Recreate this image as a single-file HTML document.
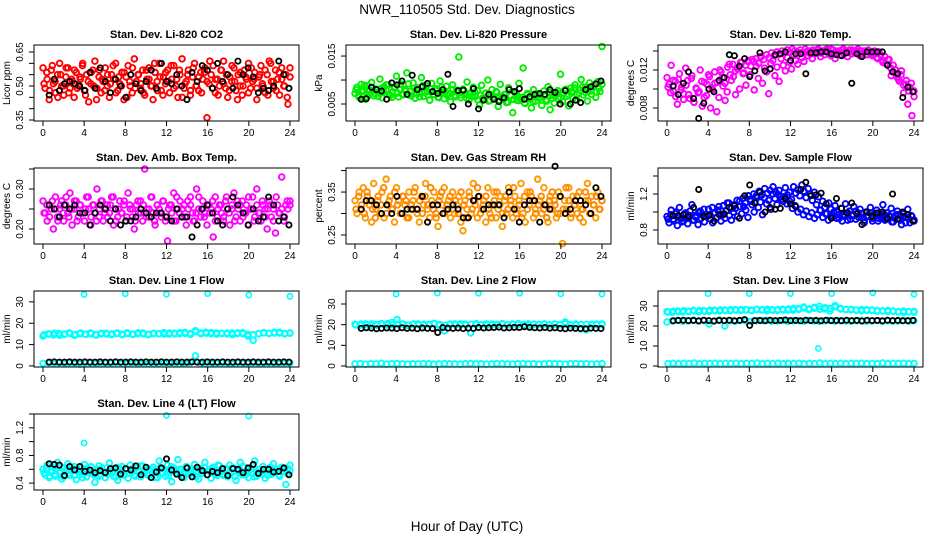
<!DOCTYPE html>
<html><head><meta charset="utf-8">
<style>
html,body{margin:0;padding:0;background:#fff;}
svg{display:block;font-family:"Liberation Sans",Arial,sans-serif;}
</style></head>
<body>
<svg id="chart" width="936" height="540" viewBox="0 0 936 540" xmlns="http://www.w3.org/2000/svg">
<rect width="936" height="540" fill="#fff"/>
<text x="467" y="14" font-size="13.5" text-anchor="middle">NWR_110505  Std. Dev. Diagnostics</text>
<text x="467" y="531" font-size="13.5" text-anchor="middle">Hour of Day (UTC)</text>
<g id="panels"></g>
</svg>
<script>
const xTicks=[0,4,8,12,16,20,24];
// Panel 1 CO2
const co2Vals=[.58,.49,.53,.44,.57,.51,.47,.55,.60,.50,.46,.54,.58,.49,.52,.45,.56,.50,.53,.59,.48,.55,.43,.51,.57,.61,.49,.54,.47,.52,.58,.50,.45,.55,.53,.60,.48,.51,.56,.44,.54,.59,.50,.47,.62,.52,.55,.49,.57,.46,.53,.58,.50,.44,.56,.52,.60,.48,.54,.51,.57,.47,.53,.59,.50,.45,.55,.62,.49,.52,.57,.46,.54,.60,.50,.48,.56,.53,.58,.36,.51,.55,.59,.47,.53,.50,.57,.61,.49,.45,.54,.52,.58,.48,.55,.50,.46,.57,.53,.60,.49,.52,.56,.44,.54,.59,.50,.47,.55,.61,.52,.49,.57,.53,.46,.58,.50,.55,.42,.54];
const co2ValsB=[.51,.56,.48,.59,.52,.45,.55,.50,.58,.47,.53,.57,.49,.54,.60,.46,.52,.56,.50,.44,.57,.53,.48,.55,.51,.59,.47,.54,.50,.56,.45,.52,.58,.49,.55,.51,.47,.57,.53,.50,.60,.48,.54,.46,.56,.52,.59,.49,.53,.57,.45,.51,.55,.48,.58,.50,.54,.47,.56,.52,.61,.49,.53,.46,.57,.51,.55,.48,.59,.52,.44,.56,.50,.54,.47,.58,.53,.49,.55,.51,.57,.46,.60,.52,.48,.56,.53,.50,.45,.58];
const co2Black=[.46,.53,.48,.51,.52,.51,.50,.48,.56,.49,.58,.52,.47,.53,.50,.45,.55,.51,.48,.52,.57,.49,.60,.52,.51,.55,.50,.44,.56,.52,.59,.57,.49,.60,.52,.55,.49,.61,.55,.58,.54,.47,.49,.48,.50,.61,.55,.49];
const co2Ticks=[.35,.40,.45,.50,.55,.60,.65];
const co2TickLabels=['0.35','','','0.50','','','0.65'];
// Panel 2 pressure (units of 0.001 kPa)
const presVals=[7.2,8.5,6.4,9.1,7.8,6.0,8.8,7.0,9.5,6.7,8.1,7.4,10.2,6.3,8.6,7.9,9.0,6.8,7.5,8.3,10.8,6.5,9.2,7.1,8.0,11.5,6.9,7.7,9.4,6.2,8.4,7.3,10.5,6.6,8.9,7.6,5.8,9.3,7.0,8.2,6.4,9.8,7.5,6.1,8.7,7.2,5.5,9.0,6.8,7.9,14.8,6.3,8.1,7.0,9.6,5.9,7.4,8.5,6.6,7.8,4.8,8.9,6.1,7.3,10.0,5.7,8.0,6.5,7.6,4.5,9.1,6.2,7.0,5.3,8.4,6.7,3.2,7.5,5.8,9.3,6.0,12.5,5.1,7.2,6.4,4.2,8.0,5.6,7.1,6.3,4.7,7.7,5.9,8.6,3.8,6.8,5.2,7.4,6.1,11.2,5.5,7.9,6.6,4.6,8.3,6.2,9.0,5.8,7.3,10.1,6.9,8.5,5.6,9.4,7.0,8.8,6.4,9.7,7.6,17.0];
const presValsB=[8.0,6.8,7.6,8.9,6.5,7.9,8.4,7.1,6.6,8.2,7.5,9.0,7.0,6.4,8.6,7.3,8.0,6.9,7.7,9.2,6.7,8.3,7.2,6.5,8.8,7.4,6.9,8.1,7.0,7.8,6.3,8.5,7.6,6.8,7.2,8.0,6.5,7.4,6.9,7.8,6.2,7.1,6.6,7.5,5.9,6.8,6.3,7.2,5.6,6.9,6.1,7.4,5.8,6.5,7.0,5.4,6.7,6.0,7.3,5.7,6.4,5.2,6.9,6.1,5.5,7.1,6.3,5.9,6.8,5.6,7.4,6.2,6.7,7.8,6.4,7.2,8.1,6.9,7.6,8.4,7.0,7.9,8.6,7.4,8.2,7.7,8.9,7.5,8.3,9.1];
const presBlack=[6.0,6.1,8.5,8.0,7.7,6.0,9.4,9.0,9.8,7.0,11.0,8.0,8.6,9.3,7.6,7.2,8.0,11.2,4.5,7.8,7.9,5.0,8.2,4.0,5.8,7.0,6.0,5.5,6.3,8.0,7.6,8.2,6.0,6.5,7.0,7.2,7.0,8.0,7.4,5.0,7.8,5.0,5.8,5.3,8.0,8.6,9.2,9.8];
const presTicks=[5,10,15];
const presTickLabels=['0.005','','0.015'];
// Panel 3 Li-820 temp (units of 0.001 C)
const tempVals=[11.2,10.5,12.5,9.8,10.8,8.4,11.6,10.2,9.5,12.2,10.9,9.0,11.4,8.6,10.1,9.6,12.0,8.2,10.7,9.3,11.5,8.0,9.9,10.6,7.6,9.1,11.8,10.3,8.8,9.7,12.6,10.9,11.3,9.4,12.1,10.0,12.8,11.7,10.4,12.9,11.5,13.1,9.9,12.4,11.1,13.4,10.6,12.2,11.8,9.5,12.7,13.0,11.4,12.3,10.8,13.2,12.5,11.9,13.3,12.8,12.1,13.6,13.0,12.6,13.8,13.3,12.9,13.9,13.5,14.0,13.2,13.7,14.1,13.8,13.4,14.0,13.6,14.2,13.9,13.5,14.1,13.2,13.8,14.0,13.6,14.2,13.9,13.4,14.1,13.7,14.0,13.8,14.2,13.5,14.0,13.9,13.6,14.1,13.8,13.7,14.0,13.3,13.9,13.6,12.8,13.4,12.6,13.1,11.4,12.5,12.0,11.2,10.8,11.9,9.6,10.5,8.4,10.2,7.2,9.8];
const tempValsB=[10.2,9.6,10.9,9.2,11.0,9.9,8.9,10.4,9.4,11.1,8.6,10.0,9.7,10.8,9.1,10.5,11.3,10.1,11.8,10.7,12.0,11.2,10.6,12.3,11.5,12.6,11.9,12.2,12.8,11.6,12.5,13.0,12.4,12.9,13.2,12.7,13.4,13.1,13.6,13.3,13.8,13.5,13.9,13.7,14.0,13.8,14.1,13.9,14.2,14.0,13.9,14.1,13.8,14.2,14.0,13.7,14.1,13.9,14.2,13.8,14.0,14.1,13.9,14.2,13.8,14.0,13.9,14.1,13.7,14.0,13.9,14.1,13.8,14.0,13.9,13.7,14.0,13.6,13.9,13.5,13.8,13.2,13.6,13.0,12.7,13.1,12.2,11.8,12.0,11.0,11.5,10.4,10.9,9.8,10.6,9.2];
const tempBlack=[10.3,9.4,10.6,11.8,9.0,6.9,8.5,10.0,9.7,10.9,11.2,13.6,13.5,12.4,13.2,11.3,11.9,13.8,11.9,12.1,13.6,13.7,13.9,13.0,13.7,13.7,11.6,13.8,13.8,13.9,13.9,13.7,13.6,13.5,13.8,10.6,13.7,13.4,13.9,13.9,13.9,13.9,12.5,11.8,11.6,9.1,10.2,9.7];
const tempTicks=[8,10,12,14];
const tempTickLabels=['0.008','','0.012',''];
// Panel 4 amb box temp
const ambVals=[.27,.24,.22,.26,.25,.20,.28,.23,.25,.27,.22,.26,.24,.29,.21,.25,.27,.23,.26,.24,.22,.28,.25,.21,.26,.24,.30,.23,.27,.22,.25,.26,.24,.28,.21,.25,.23,.27,.24,.26,.22,.29,.25,.23,.20,.26,.24,.27,.22,.35,.25,.23,.28,.24,.21,.26,.25,.23,.27,.22,.17,.26,.24,.29,.22,.25,.27,.23,.26,.21,.25,.28,.24,.22,.30,.25,.23,.27,.24,.21,.26,.25,.18,.28,.23,.26,.24,.22,.27,.25,.21,.26,.29,.23,.25,.22,.27,.24,.26,.21,.25,.28,.23,.30,.24,.22,.26,.25,.20,.27,.23,.25,.19,.26,.24,.33,.22,.26,.25,.27];
const ambValsB=[.24,.26,.23,.27,.25,.22,.26,.24,.28,.23,.25,.27,.22,.26,.24,.25,.28,.23,.26,.22,.25,.27,.24,.23,.26,.28,.22,.25,.24,.27,.23,.26,.25,.22,.27,.24,.26,.23,.25,.28,.22,.26,.24,.27,.23,.25,.26,.22,.28,.24,.25,.23,.27,.26,.22,.24,.28,.25,.23,.26,.24,.27,.22,.25,.26,.23,.28,.24,.25,.22,.27,.26,.23,.24,.28,.25,.22,.26,.24,.27,.23,.25,.26,.22,.28,.24,.25,.23,.27,.26];
const ambBlack=[.26,.25,.23,.26,.25,.26,.24,.24,.21,.24,.26,.25,.22,.25,.21,.22,.22,.23,.25,.24,.23,.24,.24,.23,.22,.25,.23,.23,.18,.21,.25,.26,.24,.22,.21,.25,.28,.26,.24,.21,.25,.22,.23,.28,.26,.22,.23,.21];
const ambTicks=[.20,.25,.30,.35];
const ambTickLabels=['0.20','','0.30',''];
// Panel 5 gas stream RH
const rhVals=[.33,.30,.35,.31,.36,.29,.34,.32,.28,.37,.31,.33,.30,.35,.29,.38,.32,.34,.31,.28,.36,.33,.30,.34,.32,.29,.35,.31,.33,.36,.30,.28,.34,.32,.37,.31,.29,.33,.35,.30,.27,.34,.32,.36,.31,.33,.29,.35,.30,.32,.34,.28,.26,.33,.31,.35,.30,.37,.32,.29,.34,.31,.33,.28,.36,.30,.32,.35,.29,.31,.34,.27,.33,.30,.36,.32,.29,.34,.31,.33,.37,.30,.28,.35,.32,.34,.29,.31,.38,.33,.30,.36,.32,.28,.34,.31,.33,.29,.35,.30,.23,.33,.31,.36,.29,.34,.32,.30,.35,.31,.28,.33,.37,.30,.34,.32,.29,.35,.31,.33];
const rhValsB=[.31,.34,.32,.30,.35,.33,.31,.29,.34,.32,.36,.30,.33,.31,.35,.32,.30,.34,.33,.29,.32,.35,.31,.33,.30,.34,.32,.36,.31,.29,.33,.35,.30,.32,.34,.31,.33,.30,.35,.32,.29,.34,.31,.33,.36,.30,.32,.34,.31,.29,.33,.35,.32,.30,.34,.31,.33,.36,.30,.32,.29,.34,.31,.35,.33,.30,.32,.34,.31,.29,.33,.35,.32,.30,.34,.31,.36,.33,.30,.32,.34,.29,.31,.35,.33,.30,.32,.34,.31,.33];
const rhBlack=[.31,.33,.33,.32,.30,.32,.30,.34,.30,.31,.31,.31,.34,.28,.32,.32,.30,.31,.32,.31,.29,.29,.33,.34,.31,.32,.32,.32,.29,.35,.31,.28,.32,.33,.33,.28,.32,.31,.41,.34,.30,.31,.33,.33,.32,.30,.36,.34];
const rhTicks=[.25,.30,.35,.40];
const rhTickLabels=['0.25','','0.35',''];
// Panel 6 sample flow
const sfVals=[.95,.88,1.02,.92,.98,.85,1.05,.93,.90,.99,.87,.96,1.08,.91,.94,.86,1.01,.97,.89,.95,1.03,.92,.88,.99,.94,1.06,.90,.97,.93,1.10,.96,.91,1.00,1.04,.95,1.12,.98,1.06,1.02,.94,1.14,1.08,1.00,1.18,1.05,1.11,.97,1.16,1.09,1.13,1.03,1.20,1.15,1.08,1.24,1.17,1.12,1.27,1.19,1.22,1.14,1.28,1.21,1.25,1.18,1.30,1.23,1.16,1.26,1.20,1.13,1.22,1.08,1.17,1.02,1.12,1.05,.98,1.10,1.03,.95,1.07,1.00,.93,1.04,.97,1.09,.91,1.01,.96,1.06,.92,.99,1.03,.94,.88,1.00,.96,1.05,.90,.98,1.02,.93,.97,1.08,.91,.99,.95,1.04,.89,.96,1.01,.92,.86,.98,.94,1.03,.88,.95,.91];
const sfValsB=[.92,.97,.90,1.00,.94,.89,.98,.93,1.01,.91,.96,.99,.93,1.03,.95,.97,1.05,.99,1.02,.96,1.07,1.01,1.10,1.04,1.08,1.13,1.06,1.15,1.10,1.18,1.12,1.20,1.16,1.23,1.19,1.26,1.21,1.24,1.28,1.22,1.19,1.14,1.17,1.09,1.12,1.04,1.07,1.00,1.03,.97,1.01,.95,.99,.93,.97,1.02,.94,.98,.91,.96,1.00,.93,.97,.90,.95,.99,.92,.96,1.01,.94,.98,.91,.95,.99,.93,.97,.90,.94,.98,.92,.96,.89,.93,.97,.91,.95,.88,.93,.96,.90];
const sfBlack=[.96,.96,.97,.95,1.05,1.25,.95,.96,.90,.97,.98,1.05,1.07,.93,1.18,1.30,1.10,1.22,1.00,1.05,1.03,1.04,1.15,1.09,1.06,1.25,1.33,1.18,1.19,1.21,1.09,.93,1.15,1.04,.99,1.10,.98,.86,1.00,.95,.99,1.00,.93,1.20,.92,1.00,.97,.90];
const sfTicks=[.8,1.0,1.2,1.4];
const sfTickLabels=['0.8','','1.2',''];
// Panel 7 line 1
const l1Band=[14,15,14.5,15.2,14.8,15.5,14.3,15.1,14.9,15.4,14.6,15,15.3,14.7,15.2,14.8,15.5,14.9,15.1,15.4,14.7,15.2,15,15.6,14.9,15.3,15.1,15.7,15.2,16.5,15.4,15.8,15.1,15.5,15.3,15,15.4,15.2,15.6,14.8,12,15.1,15.5,15.3,15.7,15.4,15.2,15.5];
const l1BandB=[14.6,14.9,15.3,14.4,15.0,15.2,14.7,15.4,14.8,15.1,14.5,15.3,14.9,15.0,15.4,14.6,15.2,14.8,15.5,15.0,14.7,15.3,15.1,14.9,15.4,15.0,15.6,15.2,14.8,16.0,15.1,15.3,15.6,14.9,15.2,15.4,14.7,15.5,15.1,14.0,14.6,15.0,15.6,15.2,15.4,15.8,15.0,15.3];
const l1Low=[1.2,1.5,1.0,1.4,1.1,1.3,1.0,0.8,1.2,1.4,1.1,1.0,1.3,1.2,1.5,1.1,1.0,1.4,1.2,1.3,1.1,1.0,1.2,1.4,1.3,1.1,1.0,1.2,1.5,4.7,1.1,1.3,1.0,1.2,1.4,1.1,1.0,1.3,1.2,1.1,1.4,1.0,1.2,1.3,1.1,1.0,1.2,1.4];
const l1OutHours=[4,8,12,16,20,24];
const l1OutVals=[33.5,33.8,33.6,33.9,33.2,32.6];
const l1Black=[1.8,1.9,1.8,1.8,1.9,1.8,1.8,1.9,1.8,1.8,1.9,1.8,1.8,1.9,1.8,1.8,1.9,1.8,1.8,1.9,1.8,1.8,1.9,1.8,1.8,1.9,1.8,1.8,1.9,1.8,1.8,1.9,1.8,1.8,1.9,1.8,1.8,1.9,1.8,1.8,1.9,1.8,1.8,1.9,1.8,1.8,1.9,1.8];
const flowTicks=[0,10,20,30];
const flowTickLabels=['0','10','20','30'];
// Panel 8 line 2
const l2Band=[20.2,19.8,20.4,19.6,20.1,20.5,19.9,21.0,22.5,20.3,19.7,20.2,20.4,19.9,20.1,20.6,19.8,17.0,20.2,20.4,19.9,20.3,16.0,20.1,20.0,20.4,19.8,20.2,20.5,19.9,20.3,20.1,19.8,20.4,20.2,20.0,20.3,19.9,20.4,20.1,21.3,20.0,19.8,18.0,20.2,19.9,20.3,20.1];
const l2BandB=[19.9,20.3,20.0,20.4,19.8,20.2,20.5,19.9,20.1,20.3,19.8,20.4,20.0,20.2,19.9,20.5,20.1,19.8,20.3,20.0,20.4,19.9,20.2,20.5,20.1,19.8,20.3,20.0,20.4,19.9,20.2,20.5,20.0,19.8,20.3,20.1,20.4,19.9,20.2,20.0,20.5,19.8,20.3,20.1,17.5,20.2,20.0,20.4];
const l2Low=[1.0,1.2,0.9,1.1,1.0,1.3,0.9,1.1,1.2,1.0,0.9,1.1,1.0,1.2,1.1,0.9,1.0,1.2,1.1,1.0,0.9,1.1,1.2,1.0,1.1,0.9,1.0,1.2,1.1,1.0,0.9,1.1,1.2,1.0,1.1,0.9,1.0,1.2,1.1,1.0,0.9,1.1,1.2,1.0,1.1,0.9,1.0,1.2];
const l2OutHours=[4,8,12,16,20,24];
const l2OutVals=[34.8,35.3,35.2,35.2,34.9,34.8];
const l2Black=[18.2,18.5,18.3,18.0,18.2,18.4,18.3,18.1,18.5,18.2,18.3,18.0,18.4,18.2,18.1,16.2,18.6,18.3,18.2,18.4,18.1,18.3,18.2,18.6,18.4,18.5,18.6,18.8,18.4,18.5,18.7,18.6,19.0,18.7,18.5,18.4,18.6,18.3,18.5,18.2,18.0,18.3,18.2,18.1,18.0,18.3,18.2,18.1];
// Panel 9 line 3
const l3Band=[27.2,26.8,27.5,27.0,27.4,27.8,27.1,27.6,27.3,27.9,27.5,28.0,27.7,28.2,27.8,28.1,27.9,28.3,28.0,27.6,28.2,27.8,28.4,28.0,27.9,28.6,29.5,28.2,28.9,29.8,28.5,27.5,30.2,28.8,28.3,28.0,27.9,27.6,28.1,27.8,27.4,27.6,27.3,27.5,27.0,26.8,27.2,26.9];
const l3BandB=[27.0,27.4,27.1,27.6,27.2,27.5,27.8,27.4,27.9,27.6,28.0,27.7,28.1,27.9,28.2,28.0,27.7,28.3,28.1,28.4,27.9,28.2,28.0,28.5,28.8,28.3,29.0,28.6,29.3,28.4,29.1,28.7,29.6,28.5,28.2,28.4,28.0,28.2,27.8,28.0,27.7,27.5,27.8,27.4,27.2,27.5,27.1,27.3];
const l3Mid=[22.0,22.5,22.8,22.3,22.6,22.9,22.4,22.7,21.0,22.5,23.0,20.0,22.6,22.4,22.8,22.5,22.3,22.7,22.6,22.9,22.4,22.5,22.8,22.3,22.6,22.7,22.4,22.9,22.5,22.3,22.6,22.8,22.4,22.7,22.5,22.3,22.6,22.8,22.4,22.5,22.7,22.3,22.6,22.4,22.5,22.8,22.3,22.6];
const l3Low=[1.2,1.4,1.1,1.3,1.2,1.5,1.1,1.3,1.2,1.4,1.1,1.3,1.2,1.4,1.1,1.3,1.2,1.5,1.1,1.3,1.2,1.4,1.1,1.3,1.2,1.4,1.1,1.3,1.2,1.5,1.1,1.3,1.2,1.4,1.1,1.3,1.2,1.4,1.1,1.3,1.2,1.5,1.1,1.3,1.2,1.4,1.1,1.3];
const l3OutHours=[4,8,12,14.7,16,20,24];
const l3OutVals=[36.2,36.2,36.2,8.8,36.2,36.6,35.8];
const l3Black=[22.6,22.8,22.9,22.7,22.8,22.6,22.9,22.7,22.5,22.8,22.7,22.9,22.6,22.8,23.2,20.3,22.7,22.8,22.6,22.9,22.7,22.8,23.0,22.7,22.8,22.6,22.9,22.7,22.8,22.6,22.9,22.7,22.8,22.6,22.9,22.7,22.8,22.5,22.9,22.7,22.8,22.6,22.9,22.7,22.8,22.6,22.7,22.8];
// Panel 10 line 4
const l4Vals=[.60,.52,.66,.48,.58,.63,.50,.70,.55,.46,.62,.57,.68,.51,.59,.64,.45,.56,.61,.53,.67,.49,.58,.63,.54,.41,.60,.65,.52,.57,.48,.62,.69,.55,.50,.60,.44,.58,.64,.53,.61,.47,.66,.56,.52,.62,.58,.49,.65,.55,.60,.51,.57,.63,.48,.59,.72,.54,.61,.50,.66,.56,.42,.62,.58,.74,.53,.60,.48,.64,.55,.59,.50,.67,.57,.46,.61,.54,.70,.52,.60,.47,.63,.56,.51,.65,.58,.53,.61,.49,.66,.55,.62,.44,.59,.70,.52,.63,.57,.48,.61,.54,.72,.50,.60,.56,.64,.47,.58,.62,.53,.68,.55,.60,.50,.63,.57,.38,.61,.66];
const l4ValsB=[.55,.62,.50,.58,.53,.65,.57,.49,.60,.54,.63,.51,.59,.56,.48,.61,.55,.64,.52,.58,.50,.62,.56,.53,.60,.57,.49,.63,.55,.51,.59,.54,.61,.50,.57,.65,.53,.58,.52,.60,.56,.48,.62,.55,.59,.51,.64,.57,.53,.60,.50,.56,.62,.54,.58,.49,.61,.55,.63,.52,.57,.60,.53,.66,.56,.51,.59,.54,.62,.50,.58,.55,.64,.52,.57,.61,.49,.56,.60,.53,.58,.51,.63,.55,.59,.52,.57,.61,.54,.58];
const l4OutHours=[4,12,20];
const l4OutVals=[.98,1.38,1.37];
const l4Black=[.68,.67,.66,.51,.64,.59,.64,.57,.59,.55,.58,.55,.61,.62,.53,.61,.59,.65,.52,.63,.48,.56,.62,.75,.59,.53,.48,.62,.49,.63,.58,.52,.57,.55,.61,.51,.61,.60,.55,.62,.67,.54,.60,.60,.56,.57,.62,.52];
const l4Ticks=[.4,.6,.8,1.0,1.2,1.4];
const l4TickLabels=['0.4','','0.8','','1.2',''];

const NS='http://www.w3.org/2000/svg';
const root=document.getElementById('panels');
function mk(tag,attrs,parent){const e=document.createElementNS(NS,tag);for(const k in attrs)e.setAttribute(k,attrs[k]);parent.appendChild(e);return e;}

const panels=[
 {col:0,row:0,ymin:.3456,ymax:.681,title:'Stan. Dev. Li-820 CO2',ylab:'Licor ppm',ticks:co2Ticks,labels:co2TickLabels,name:'co2',
  series:[{vals:co2Vals,color:'#ff0000'},{vals:co2ValsB,color:'#ff0000'}],black:co2Black},
 {col:1,row:0,ymin:1.46,ymax:17.3,title:'Stan. Dev. Li-820 Pressure',ylab:'kPa',ticks:presTicks,labels:presTickLabels,name:'pressure',
  series:[{vals:presVals,color:'#00ee00'},{vals:presValsB,color:'#00ee00'}],black:presBlack},
 {col:2,row:0,ymin:6.63,ymax:14.63,title:'Stan. Dev. Li-820 Temp.',ylab:'degrees C',ticks:tempTicks,labels:tempTickLabels,name:'li820-temp',
  series:[{vals:tempVals,color:'#ff00ff'},{vals:tempValsB,color:'#ff00ff'}],black:tempBlack},
 {col:0,row:1,ymin:.1625,ymax:.3525,title:'Stan. Dev. Amb. Box Temp.',ylab:'degrees C',ticks:ambTicks,labels:ambTickLabels,name:'amb-box-temp',
  series:[{vals:ambVals,color:'#ff00ff'},{vals:ambValsB,color:'#ff00ff'}],black:ambBlack},
 {col:1,row:1,ymin:.229,ymax:.406,title:'Stan. Dev. Gas Stream RH',ylab:'percent',ticks:rhTicks,labels:rhTickLabels,name:'gas-stream-rh',
  series:[{vals:rhVals,color:'#ff9900'},{vals:rhValsB,color:'#ff8800'}],black:rhBlack},
 {col:2,row:1,ymin:.644,ymax:1.489,title:'Stan. Dev. Sample Flow',ylab:'ml/min',ticks:sfTicks,labels:sfTickLabels,name:'sample-flow',
  series:[{vals:sfVals,color:'#0000ff'},{vals:sfValsB,color:'#0000ff'}],black:sfBlack},
 {col:0,row:2,ymin:-0.5,ymax:35.1,title:'Stan. Dev. Line 1 Flow',ylab:'ml/min',ticks:flowTicks,labels:flowTickLabels,name:'line1-flow',
  series:[{vals:l1Band,color:'#00ffff'},{vals:l1BandB,color:'#00ffff'},{vals:l1Low,color:'#00ffff'}],outH:l1OutHours,outV:l1OutVals,black:l1Black},
 {col:1,row:2,ymin:-0.5,ymax:36.3,title:'Stan. Dev. Line 2 Flow',ylab:'ml/min',ticks:flowTicks,labels:flowTickLabels,name:'line2-flow',
  series:[{vals:l2Band,color:'#00ffff'},{vals:l2BandB,color:'#00ffff'},{vals:l2Low,color:'#00ffff'}],outH:l2OutHours,outV:l2OutVals,black:l2Black},
 {col:2,row:2,ymin:-0.5,ymax:37.5,title:'Stan. Dev. Line 3 Flow',ylab:'ml/min',ticks:flowTicks,labels:flowTickLabels,name:'line3-flow',
  series:[{vals:l3Band,color:'#00ffff'},{vals:l3BandB,color:'#00ffff'},{vals:l3Mid,color:'#00ffff'},{vals:l3Low,color:'#00ffff'}],outH:l3OutHours,outV:l3OutVals,black:l3Black},
 {col:0,row:3,ymin:.3,ymax:1.4,title:'Stan. Dev. Line 4 (LT) Flow',ylab:'ml/min',ticks:l4Ticks,labels:l4TickLabels,name:'line4-flow',
  series:[{vals:l4Vals,color:'#00ffff'},{vals:l4ValsB,color:'#00ffff'}],outH:l4OutHours,outV:l4OutVals,black:l4Black}
];
const rowTops=[45,168,291,414];
const H=76;
panels.forEach(p=>{
  const L=p.col*312+34, R=L+265, T=rowTops[p.row], B=T+H;
  const xs=h=>L+9+h/24*247;
  const ys=v=>T+(p.ymax-v)/(p.ymax-p.ymin)*H;
  const g=mk('g',{},root);
  
  
  const t=mk('text',{x:(L+R)/2,y:T-7,'font-size':11,'font-weight':'bold','text-anchor':'middle'},g);
  t.textContent=p.title;
  
  
  const yl=mk('text',{x:0,y:0,'font-size':10,'text-anchor':'middle',transform:`translate(${p.col*312+10},${(T+B)/2}) rotate(-90)`},g);
  yl.textContent=p.ylab;
  
  
  const pts=mk('g',{fill:'none'},g);
  
  
  p.series.forEach((s,si)=>{
    const n=s.vals.length;
    const off=si%2===1?0.1:0;
    s.vals.forEach((v,i)=>{
      const c=mk('circle',{cx:xs(off+i*(24-off)/(n-1)),cy:ys(v),r:2.8,stroke:s.color,'stroke-width':1.9},pts);
      
      
    });
  });
  if(p.outH){p.outH.forEach((h,i)=>{
    const c=mk('circle',{cx:xs(h),cy:ys(p.outV[i]),r:2.6,stroke:'#00ffff','stroke-width':1.6},pts);
    
    
  });}
  const nb=p.black.length;
  p.black.forEach((v,i)=>{
    const c=mk('circle',{cx:xs(0.6+i*23.3/(nb-1)),cy:ys(v),r:2.6,stroke:'#000','stroke-width':1.8},pts);
    
    
  });
  const box=mk('rect',{x:L,y:T,width:R-L,height:H,fill:'none',stroke:'#000','stroke-width':1},g);
  
  
  const xa=mk('g',{},g);
  
  
  mk('line',{x1:xs(0),x2:xs(24),y1:B,y2:B,stroke:'#000'},xa);
  xTicks.forEach(h=>{
    mk('line',{x1:xs(h),x2:xs(h),y1:B,y2:B+5,stroke:'#000'},xa);
    const tl=mk('text',{x:xs(h),y:B+15,'font-size':10,'text-anchor':'middle'},xa);
    tl.textContent=String(h);
    
    
  });
  const ya=mk('g',{},g);
  
  
  mk('line',{x1:L,x2:L,y1:ys(p.ticks[0]),y2:ys(p.ticks[p.ticks.length-1]),stroke:'#000'},ya);
  p.ticks.forEach((v,i)=>{
    mk('line',{x1:L-5,x2:L,y1:ys(v),y2:ys(v),stroke:'#000'},ya);
    if(p.labels[i]){
      const tl=mk('text',{x:0,y:0,'font-size':10,'text-anchor':'middle',transform:`translate(${L-11},${ys(v)}) rotate(-90)`},ya);
      tl.textContent=p.labels[i];
      
      
    }
  });
});
</script>
</body></html>
